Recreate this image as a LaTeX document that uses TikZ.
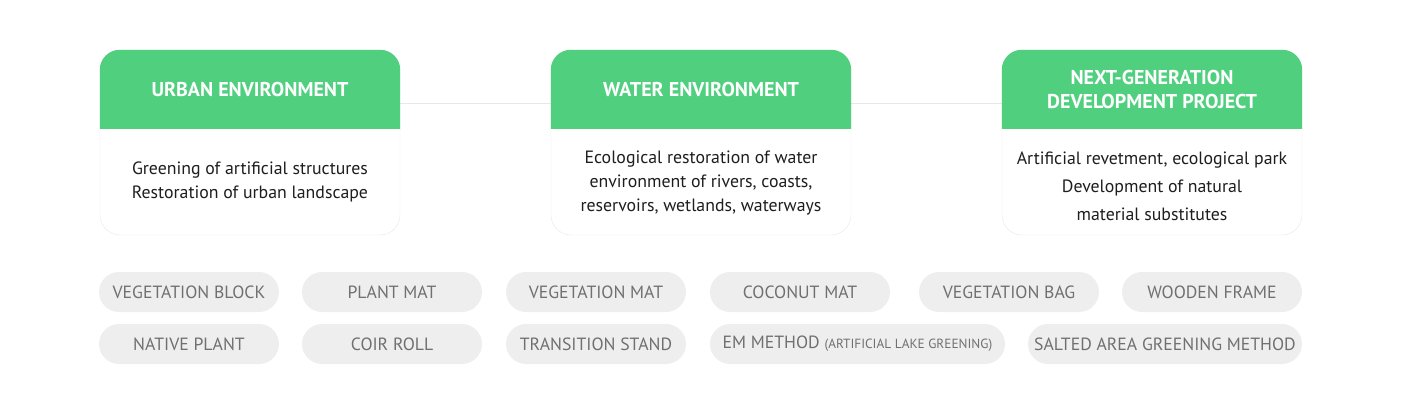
\documentclass[tikz,border=0pt]{standalone}
\usepackage{fontspec}
\setmainfont{PT Sans}
\definecolor{leaf}{RGB}{80,208,127}
\definecolor{edge}{RGB}{232,232,232}
\definecolor{pillgrey}{RGB}{238,238,238}
\definecolor{pilltext}{RGB}{112,112,112}
\definecolor{ink}{RGB}{30,30,30}

\begin{document}
\begin{tikzpicture}[x=1pt,y=-1pt]
    \tikzset{%
      card/.style={rectangle, draw=edge, fill=white, rounded corners=20pt,
        minimum width=300pt, minimum height=185pt, inner sep=0pt},
      head/.style={fill=leaf},
      htext/.style={text=white, align=center,
        font=\fontsize{20}{23.5}\selectfont\bfseries},
      btext/.style={text=ink, align=center,
        font=\fontsize{17.8}{24}\selectfont},
      pill/.style={rectangle, fill=pillgrey, rounded corners=20pt,
        minimum width=#1, minimum height=40pt, inner sep=0pt,
        text=pilltext, font=\fontsize{17.7}{20}\selectfont},
      pill/.default=180pt,
      link/.style={draw=edge, line width=0.8pt},
    }
    \useasboundingbox (0,0) rectangle (1402,414);
    \coordinate (lineY) at (0,103);
    % cards
    \node[card] (U) at (250,142.5) {};
    \node[card] (W) at (701,142.5) {};
    \node[card] (N) at (1152,142.5) {};
    \draw [link] (U.east |- lineY) -- (W.west |- lineY);
    \draw [link] (W.east |- lineY) -- (N.west |- lineY);
    \foreach \c in {U,W,N}{
      \fill [head] ([yshift=-79pt]\c.north west) [rounded corners=20pt]
        -- (\c.north west) -- (\c.north east) [sharp corners]
        -- ([yshift=-79pt]\c.north east) -- cycle;
    }
    \node[htext] (Ut) at ([yshift=-39.5pt]U.north) {URBAN ENVIRONMENT};
    \node[htext] (Wt) at ([yshift=-39.5pt]W.north) {WATER ENVIRONMENT};
    \node[htext] (Nt) at ([yshift=-39.5pt]N.north)
      {NEXT-GENERATION\\DEVELOPMENT PROJECT};
    \node[btext] (Ub) at ([yshift=53pt]U.south)
      {Greening of artificial structures\\Restoration of urban landscape};
    \node[btext] (Wb) at ([yshift=52pt]W.south)
      {Ecological restoration of water\\environment of rivers, coasts,\\
       reservoirs, wetlands, waterways};
    \node[btext, font=\fontsize{17.8}{28}\selectfont] (Nb) at ([yshift=49pt]N.south)
      {Artificial revetment, ecological park\\Development of natural\\
       material substitutes};
    % methods, first row
    \node[pill] (P1) at (189,292) {VEGETATION BLOCK};
    \node[pill] (P2) at (392,292) {PLANT MAT};
    \node[pill] (P3) at (596,292) {VEGETATION MAT};
    \node[pill] (P4) at (800,292) {COCONUT MAT};
    \node[pill] (P5) at (1009,292) {VEGETATION BAG};
    \node[pill] (P6) at (1212,292) {WOODEN FRAME};
    % second row
    \node[pill] (Q1) at (189,344) {NATIVE PLANT};
    \node[pill] (Q2) at (392,344) {COIR ROLL};
    \node[pill] (Q3) at (596,344) {TRANSITION STAND};
    \node[pill=295pt] (Q4) at (857.5,344)
      {EM METHOD {\fontsize{13.3}{15}\selectfont (ARTIFICIAL LAKE GREENING)}};
    \node[pill=274pt] (Q5) at (1165,344) {SALTED AREA GREENING METHOD};
\end{tikzpicture}
\end{document}
